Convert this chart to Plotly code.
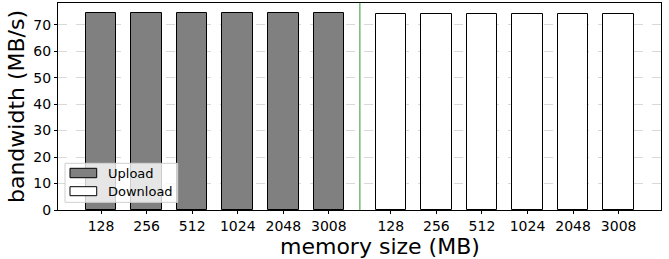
import plotly.graph_objects as go

memory_labels = ["128", "256", "512", "1024", "2048", "3008"]
upload_bw = [74.4, 74.4, 74.4, 74.4, 74.4, 74.4]
download_bw = [74.0, 74.0, 74.0, 74.0, 74.0, 74.0]
series_names = ["Upload", "Download"]
series_colors = ["#808080", "white"]
x_title = "memory size (MB)"
y_title = "bandwidth (MB/s)"

upload_x = [0, 1, 2, 3, 4, 5]
download_x = [6.36, 7.36, 8.36, 9.36, 10.36, 11.36]
divider_x = 5.68

font_family = "DejaVu Sans"

fig = go.Figure()
fig.add_trace(go.Bar(x=upload_x, y=upload_bw, name=series_names[0], width=0.67,
                     marker=dict(color=series_colors[0], line=dict(color="black", width=1))))
fig.add_trace(go.Bar(x=download_x, y=download_bw, name=series_names[1], width=0.67,
                     marker=dict(color=series_colors[1], line=dict(color="black", width=1))))

fig.add_shape(type="line", x0=divider_x, x1=divider_x, y0=0, y1=1, yref="paper",
              line=dict(color="rgba(0,128,0,0.55)", width=1.5), layer="above")

# legend drawn matplotlib-style (wide patches)
fig.add_shape(type="rect", xref="paper", yref="paper", x0=0.0116, x1=0.1985, y0=0.037, y1=0.2256,
              fillcolor="rgba(255,255,255,0.8)", line=dict(color="#d0d0d0", width=1), layer="above")
legend_rows = [(0.156, 0.2014, 0.1787), (0.0691, 0.1126, 0.0908)]
for (y0, y1, yt), name, col in zip(legend_rows, series_names, series_colors):
    fig.add_shape(type="rect", xref="paper", yref="paper", x0=0.0199, x1=0.0642, y0=y0, y1=y1,
                  fillcolor=col, line=dict(color="black", width=1), layer="above")
    fig.add_annotation(xref="paper", yref="paper", x=0.0791, y=yt, text=name, showarrow=False,
                       xanchor="left", yanchor="middle", font=dict(size=13, family=font_family, color="black"))

# x axis title (placed like the reference)
fig.add_annotation(xref="paper", yref="paper", x=0.5335, y=-0.176, text=x_title, showarrow=False,
                   xanchor="center", yanchor="middle", font=dict(size=22, family=font_family, color="black"))

fig.update_layout(
    width=669, height=259,
    margin=dict(l=58, r=8, t=3, b=49),
    plot_bgcolor="white", paper_bgcolor="white",
    font=dict(family=font_family, color="black"),
    showlegend=False,
    bargap=0,
)
fig.update_xaxes(
    range=[-0.945, 12.29], automargin=False,
    tickmode="array", tickvals=upload_x + download_x, ticktext=memory_labels + memory_labels,
    tickfont=dict(size=14), ticks="outside", ticklen=3, tickcolor="black",
    showline=True, linecolor="black", linewidth=1, mirror=True,
    showgrid=False, zeroline=False,
)
fig.update_yaxes(
    range=[0, 78.2], automargin=False,
    tickvals=[0, 10, 20, 30, 40, 50, 60, 70],
    tickfont=dict(size=14), ticks="outside", ticklen=3, tickcolor="black",
    showline=True, linecolor="black", linewidth=1, mirror=True,
    showgrid=True, gridcolor="#d9d9d9", griddash="dash", gridwidth=1,
    zeroline=False,
    title=dict(text=y_title, font=dict(size=22), standoff=2),
)

fig.write_html("out.html", config={"displayModeBar": False},
               post_script="document.body.style.margin='0';document.body.style.padding='0';")
